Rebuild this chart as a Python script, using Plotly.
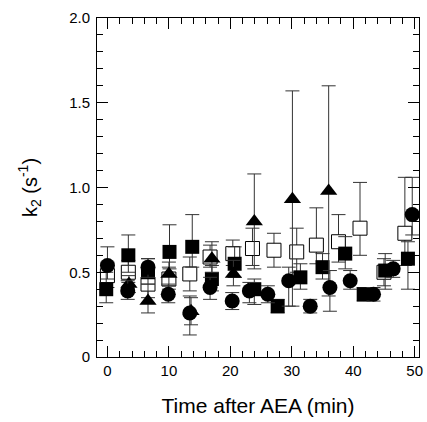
import plotly.graph_objects as go

# Filled circles
circ_x = [0, 3.3, 6.6, 9.9, 13.4, 16.7, 20.3, 23.1, 26.1, 29.5, 33.0, 36.2, 39.5, 43.3, 46.5, 49.6]
circ_y = [0.54, 0.39, 0.53, 0.37, 0.26, 0.41, 0.33, 0.39, 0.37, 0.45, 0.30, 0.41, 0.45, 0.37, 0.52, 0.84]
circ_ep = [0.11, 0.06, 0.05, 0.06, 0.10, 0.06, 0.05, 0.05, 0.05, 0.08, 0.04, 0.10, 0.06, 0.04, 0.05, 0.22]
circ_em = [0.08, 0.05, 0.06, 0.05, 0.13, 0.07, 0.05, 0.07, 0.05, 0.15, 0.04, 0.14, 0.05, 0.04, 0.05, 0.12]

# Filled squares
sq_x = [-0.2, 3.4, 6.6, 10.1, 13.8, 17.0, 20.7, 23.9, 27.7, 31.4, 35.0, 38.7, 41.7, 45.2, 48.9]
sq_y = [0.40, 0.60, 0.50, 0.62, 0.65, 0.46, 0.55, 0.40, 0.30, 0.47, 0.53, 0.61, 0.37, 0.51, 0.58]
sq_ep = [0.10, 0.12, 0.08, 0.16, 0.19, 0.08, 0.10, 0.06, 0.04, 0.08, 0.08, 0.10, 0.04, 0.10, 0.10]
sq_em = [0.08, 0.10, 0.07, 0.10, 0.12, 0.07, 0.08, 0.09, 0.04, 0.07, 0.07, 0.09, 0.04, 0.11, 0.18]

# Open squares
osq_x = [0, 3.4, 6.6, 10.0, 13.4, 16.7, 20.4, 23.6, 27.1, 30.8, 34.0, 37.6, 41.1, 45.0, 48.4]
osq_y = [0.48, 0.50, 0.43, 0.46, 0.49, 0.59, 0.61, 0.64, 0.63, 0.62, 0.66, 0.68, 0.76, 0.50, 0.73]
osq_ep = [0.08, 0.07, 0.09, 0.07, 0.10, 0.07, 0.08, 0.12, 0.10, 0.14, 0.22, 0.16, 0.27, 0.08, 0.33]
osq_em = [0.07, 0.06, 0.08, 0.06, 0.10, 0.06, 0.07, 0.10, 0.10, 0.12, 0.11, 0.12, 0.16, 0.08, 0.19]

# Filled triangles
tri_x = [3.5, 6.6, 10.0, 13.6, 17.0, 20.5, 23.9, 30.1, 36.0]
tri_y = [0.43, 0.33, 0.49, 0.27, 0.58, 0.49, 0.80, 0.93, 0.98]
tri_ep = [0.05, 0.10, 0.07, 0.08, 0.10, 0.08, 0.28, 0.64, 0.62]
tri_em = [0.05, 0.07, 0.07, 0.08, 0.08, 0.07, 0.28, 0.63, 0.62]

x_ticks = [0, 10, 20, 30, 40, 50]
y_tickvals = [0, 0.5, 1.0, 1.5, 2.0]
y_ticktext = ["0", "0.5", "1.0", "1.5", "2.0"]

fig = go.Figure()

def add(x, y, ep, em, symbol, size, fill, line_w):
    fig.add_trace(go.Scatter(
        x=x, y=y, mode="markers",
        marker=dict(symbol=symbol, size=size, color=fill,
                    line=dict(color="black", width=line_w)),
        error_y=dict(type="data", array=ep, arrayminus=em, symmetric=False,
                     color="#333333", thickness=1, width=7),
        showlegend=False,
    ))

add(osq_x, osq_y, osq_ep, osq_em, "square", 14, "white", 1)
add(sq_x, sq_y, sq_ep, sq_em, "square", 14, "black", 0)
add(tri_x, tri_y, tri_ep, tri_em, "triangle-up", 15, "black", 0)
add(circ_x, circ_y, circ_ep, circ_em, "circle", 15, "black", 0)

font_name = "Liberation Sans, Arial"
axis_common = dict(
    showgrid=False, zeroline=False, showline=True, linecolor="black", linewidth=1,
    mirror="ticks", ticks="inside", ticklen=11, tickcolor="black", tickwidth=1,
    tickfont=dict(family=font_name, size=15, color="black"),
)

fig.update_xaxes(
    range=[-1.7, 50.7], tickvals=x_ticks,
    minor=dict(ticks="inside", dtick=2, tick0=0, ticklen=6, tickcolor="black"),
    title=dict(text="Time after AEA (min)", font=dict(family=font_name, size=21, color="black"), standoff=20),
    **axis_common,
)
fig.update_yaxes(
    range=[0, 2.0], tickvals=y_tickvals, ticktext=y_ticktext,
    minor=dict(ticks="inside", dtick=0.1, tick0=0, ticklen=6, tickcolor="black"),
    title=dict(text="k<sub>2</sub> (s<sup>-1</sup>)", font=dict(family=font_name, size=20, color="black"), standoff=26),
    ticklabelstandoff=3,
    **axis_common,
)

fig.update_layout(
    width=427, height=422,
    margin=dict(l=97, r=4, t=18, b=65),
    plot_bgcolor="white", paper_bgcolor="white",
)

fig.write_html("out.html")
